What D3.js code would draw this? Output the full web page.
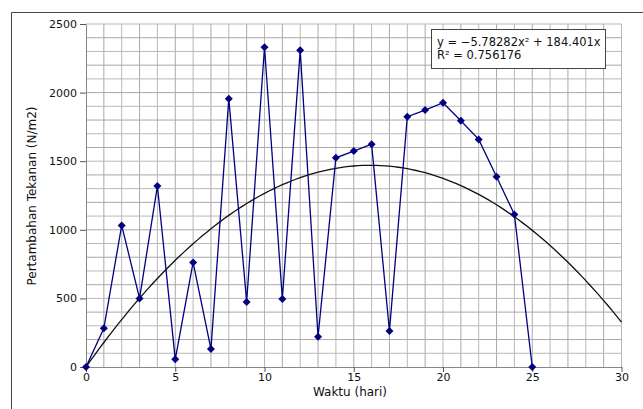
<!DOCTYPE html>
<html><head><meta charset="utf-8">
<script src="https://cdn.jsdelivr.net/npm/d3@7"></script>
<style>body{margin:0;background:#fff}svg{display:block}text{font-family:"DejaVu Sans",sans-serif;fill:#111}</style>
</head><body><svg id="c" width="643" height="409"></svg>
<script>
const days = [0,1,2,3,4,5,6,7,8,9,10,11,12,13,14,15,16,17,18,19,20,21,22,23,24,25];
const pressure = [0,282,1032,500,1319,56,762,131,1956,474,2330,496,2308,221,1525,1574,1624,262,1824,1873,1926,1795,1659,1386,1112,0];
const xTicks = [0,5,10,15,20,25,30];
const yTicks = [0,500,1000,1500,2000,2500];
const coefA = -5.78282, coefB = 184.401;
const eqLabels = ["y = \u22125.78282x\u00b2 + 184.401x", "R\u00b2 = 0.756176"];

const svg = d3.select("#c");
const L = 86, R = 621.5, T = 24, B = 367;
const x = d3.scaleLinear().domain([0,30]).range([L,R]);
const y = d3.scaleLinear().domain([0,2500]).range([B,T]);

// outer frame (top & left only)
svg.append("line").attr("x1",11.5).attr("x2",643).attr("y1",12.5).attr("y2",12.5).attr("stroke","#444");
svg.append("line").attr("x1",11.5).attr("x2",11.5).attr("y1",12.5).attr("y2",409).attr("stroke","#444");

// grid
const g = svg.append("g");
g.selectAll(".vg").data(d3.range(1,31)).enter().append("line")
  .attr("x1",d=>x(d)).attr("x2",d=>x(d)).attr("y1",T).attr("y2",B)
  .attr("stroke",d=>d%2? "#a8a8a8":"#b8b8b8").attr("stroke-width",1);
g.selectAll(".hg").data(d3.range(100,2501,100)).enter().append("line")
  .attr("x1",L).attr("x2",R).attr("y1",d=>y(d)).attr("y2",d=>y(d))
  .attr("stroke",d=>d%200? "#b8b8b8":"#a8a8a8").attr("stroke-width",1);

// axes
const xa = svg.append("g").attr("transform",`translate(0,${B})`)
  .call(d3.axisBottom(x).tickValues(xTicks).tickFormat(d3.format("d")).tickSize(5).tickPadding(1).tickSizeOuter(0));
const ya = svg.append("g").attr("transform",`translate(${L},0)`)
  .call(d3.axisLeft(y).tickValues(yTicks).tickFormat(d3.format("d")).tickSize(6).tickPadding(3).tickSizeOuter(0));
[xa,ya].forEach(a=>{
  a.select(".domain").attr("stroke","#888");
  a.selectAll(".tick line").attr("stroke","#555");
  a.selectAll("text").attr("font-size",11).attr("font-family","DejaVu Sans").attr("fill","#111");
});

// trend curve
const curve = d3.range(0,30.01,0.25).map(t=>[t, coefA*t*t + coefB*t]);
svg.append("path").datum(curve)
  .attr("d", d3.line().x(d=>x(d[0])).y(d=>y(d[1])))
  .attr("fill","none").attr("stroke","#111").attr("stroke-width",1.3);

// data line
const pts = days.map((d,i)=>[d, pressure[i]]);
svg.append("path").datum(pts)
  .attr("d", d3.line().x(d=>x(d[0])).y(d=>y(d[1])))
  .attr("fill","none").attr("stroke","#000080").attr("stroke-width",1.3);
svg.selectAll(".m").data(pts).enter().append("path")
  .attr("transform",d=>`translate(${x(d[0])},${y(d[1])})`)
  .attr("d","M0,-4L4,0L0,4L-4,0Z").attr("fill","#000080");

// equation box
const bx = svg.append("g");
bx.append("rect").attr("x",431.5).attr("y",29.5).attr("width",174).attr("height",39)
  .attr("fill","#fff").attr("stroke","#444");
bx.selectAll("text").data(eqLabels).enter().append("text")
  .attr("x",437).attr("y",(d,i)=>46+i*13).attr("font-size",11.5).text(d=>d);

// axis titles
svg.append("text").attr("x",350).attr("y",396).attr("text-anchor","middle").attr("font-size",12).text("Waktu (hari)");
svg.append("text").attr("transform","translate(36,196) rotate(-90)").attr("text-anchor","middle").attr("font-size",12).text("Pertambahan Tekanan (N/m2)");
</script></body></html>
